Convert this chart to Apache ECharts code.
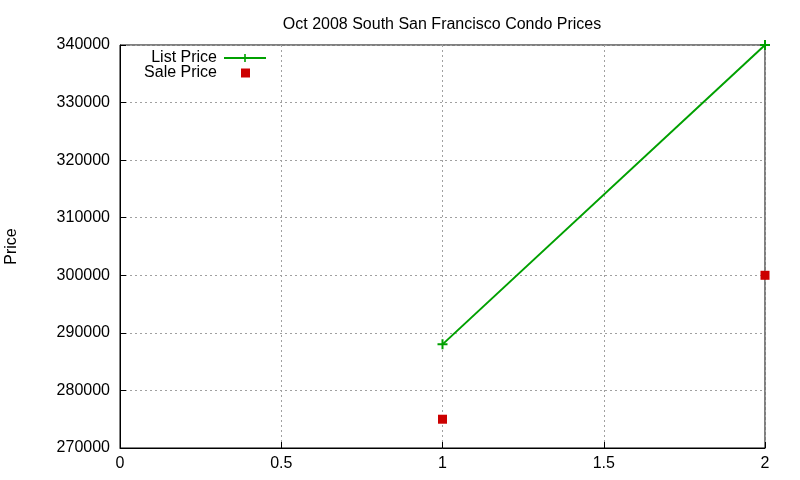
<!DOCTYPE html>
<html>
<head>
<meta charset="utf-8">
<script src="https://cdn.jsdelivr.net/npm/echarts@6/dist/echarts.min.js"></script>
<style>
html, body { margin: 0; padding: 0; background: #fff; }
#chart { width: 800px; height: 480px; }
</style>
</head>
<body>
<div id="chart"></div>
<script>
// data
var xValues = [1, 2];
var listPrice = [288000, 340000];
var salePrice = [275000, 300000];

var plusPath = 'path://M4,0 L6,0 L6,4 L10,4 L10,6 L6,6 L6,10 L4,10 L4,6 L0,6 L0,4 L4,4 Z';
var font = 'Liberation Sans, Arial, sans-serif';

function pairs(xs, ys) {
    return xs.map(function (x, i) { return [x, ys[i]]; });
}

var chart = echarts.init(document.getElementById('chart'));
var option = {
    animation: false,
    title: {
        text: 'Oct 2008 South San Francisco Condo Prices',
        left: 437,
        textAlign: 'center',
        top: 12,
        textStyle: { fontFamily: font, fontSize: 16, fontWeight: 'normal', color: '#000' }
    },
    legend: [
        {
            data: ['List Price'],
            align: 'right',
            right: 533,
            top: 50,
            padding: 0,
            itemWidth: 42,
            itemHeight: 10,
            textStyle: { fontFamily: font, fontSize: 16, color: '#000', padding: [0, 2, 0, 0] }
        },
        {
            data: ['Sale Price'],
            align: 'right',
            right: 550,
            top: 65,
            padding: 0,
            itemWidth: 9,
            itemHeight: 9,
            textStyle: { fontFamily: font, fontSize: 16, color: '#000', padding: [0, 19, 0, 0] }
        }
    ],
    grid: {
        left: 120, right: 35, top: 45, bottom: 32,
        outerBoundsMode: 'none',
        show: true, borderColor: '#000', borderWidth: 1
    },
    xAxis: {
        type: 'value',
        min: 0, max: 2, interval: 0.5,
        axisLine: { lineStyle: { color: '#000' } },
        axisTick: { inside: true, length: 6, lineStyle: { color: '#000' } },
        axisLabel: { fontFamily: font, fontSize: 16, color: '#000', margin: 8 },
        splitLine: { show: true, lineStyle: { color: '#a0a0a0', type: [2, 3] } }
    },
    yAxis: {
        type: 'value',
        min: 270000, max: 340000, interval: 10000,
        name: 'Price',
        nameLocation: 'middle',
        nameRotate: 90,
        nameGap: 100,
        nameTextStyle: { fontFamily: font, fontSize: 16, color: '#000' },
        axisLine: { show: true, lineStyle: { color: '#000' } },
        axisTick: { show: true, inside: true, length: 6, lineStyle: { color: '#000' } },
        axisLabel: {
            fontFamily: font, fontSize: 16, color: '#000', margin: 10,
            formatter: function (v) { return String(v); }
        },
        splitLine: { show: true, lineStyle: { color: '#a0a0a0', type: [2, 3] } }
    },
    series: [
        {
            name: 'List Price',
            type: 'line',
            data: pairs(xValues, listPrice),
            symbol: plusPath,
            symbolSize: 10,
            showAllSymbol: true,
            lineStyle: { color: '#00a000', width: 2 },
            itemStyle: { color: '#00a000' }
        },
        {
            name: 'Sale Price',
            type: 'scatter',
            data: pairs(xValues, salePrice),
            symbol: 'rect',
            symbolSize: 9,
            itemStyle: { color: '#cc0000', opacity: 1 }
        }
    ]
};
option && chart.setOption(option);
</script>
</body>
</html>
